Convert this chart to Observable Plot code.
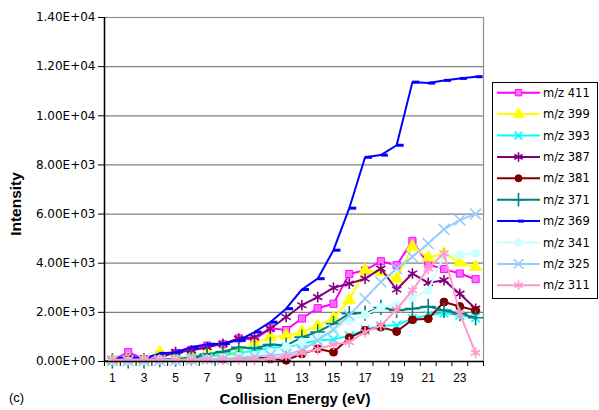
<!DOCTYPE html>
<html><head><meta charset="utf-8">
<script src="https://cdn.jsdelivr.net/npm/d3@7"></script>
<script src="https://cdn.jsdelivr.net/npm/@observablehq/plot@0.6"></script>
<style>body{margin:0;background:#fff}#chart{width:599px;height:410px}</style>
</head><body><div id="chart"></div>
<script>
const energies = [1,2,3,4,5,6,7,8,9,10,11,12,13,14,15,16,17,18,19,20,21,22,23,24];
const seriesNames = ["m/z 411","m/z 399","m/z 393","m/z 387","m/z 381","m/z 371","m/z 369","m/z 341","m/z 325","m/z 311"];
const s411 = [50,380,100,300,350,480,650,700,940,900,1350,1280,1750,2170,2350,3560,3710,4080,3920,4910,3950,3760,3580,3350];
const s399 = [50,100,50,380,150,200,350,300,380,720,990,1060,1200,1450,1760,2500,3710,3640,3370,4670,4230,4400,4030,3850];
const s393 = [30,50,30,100,100,150,200,250,350,450,550,600,720,860,900,1050,1300,1450,1480,1740,1880,1970,1880,1780];
const s387 = [50,60,40,150,380,450,580,720,930,990,1330,1810,2290,2620,3000,3170,3370,3780,2930,3580,3200,3310,2760,2150];
const s381 = [20,20,20,50,50,80,100,100,150,180,100,50,310,520,380,970,1270,1400,1220,1700,1740,2420,2240,2080];
const s371 = [30,30,30,80,100,150,300,400,580,530,690,650,990,1200,1540,1950,1970,2200,2080,2150,2240,2080,1950,1780];
const s369 = [100,180,120,330,380,580,700,730,860,1200,1600,2150,2930,3370,4530,6240,8310,8400,8800,11370,11330,11440,11520,11590];
const s341 = [20,20,20,50,50,80,100,150,200,250,400,600,800,1000,1300,1650,1900,2200,2300,2600,2900,4300,4330,4400];
const s325 = [30,30,30,50,50,80,100,100,150,200,250,300,450,860,1300,1880,2560,3240,3780,4260,4800,5380,5760,6000];
const s311 = [80,70,90,80,60,80,90,70,80,60,120,200,350,500,690,790,1200,1470,2110,2900,3780,4400,1950,350];
const seriesValues = [s411,s399,s393,s387,s381,s371,s369,s341,s325,s311];
const yTicks = [0,2000,4000,6000,8000,10000,12000,14000];
const xLabelTicks = [1,3,5,7,9,11,13,15,17,19,21,23];
const xBoundaryTicks = [0.5,1.5,2.5,3.5,4.5,5.5,6.5,7.5,8.5,9.5,10.5,11.5,12.5,13.5,14.5,15.5,16.5,17.5,18.5,19.5,20.5,21.5,22.5,23.5,24.5];

const dash = {draw(ctx){ctx.moveTo(0,-1.5);ctx.lineTo(7,-1.5);ctx.lineTo(7,1.5);ctx.lineTo(0,1.5);ctx.closePath();}};
const styles = [
  {color:"#ff00ff", symbol:"square", fill:"#ff70ff", r:4},
  {color:"#ffff00", symbol:"triangle", fill:"#ffff00", r:4.5},
  {color:"#00ffff", symbol:"times", fill:"none", r:4},
  {color:"#800080", symbol:"asterisk", fill:"none", r:5},
  {color:"#800000", symbol:"circle", fill:"#800000", r:4},
  {color:"#008080", symbol:"plus", fill:"none", r:5},
  {color:"#0000ff", symbol:dash, fill:"#0000ff", r:4},
  {color:"#ccffff", symbol:"circle", fill:"#ccffff", r:4},
  {color:"#99ccff", symbol:"times", fill:"none", r:5},
  {color:"#ff99cc", symbol:"asterisk", fill:"none", r:5}
];

const fmt = d => { const [m,e] = d.toExponential(2).split("e"); return m + "E" + e[0] + e.slice(1).padStart(2,"0"); };

const seriesMarks = [];
seriesNames.forEach((name, i) => {
  const rows = energies.map((x, j) => ({x, y: seriesValues[i][j]}));
  const st = styles[i];
  seriesMarks.push(Plot.line(rows, {x:"x", y:"y", stroke: st.color, strokeWidth: 2}));
  seriesMarks.push(Plot.dot(rows, {x:"x", y:"y", symbol: st.symbol, r: st.r,
    fill: st.fill, stroke: st.symbol === dash ? "none" : st.color,
    strokeWidth: st.fill === "none" ? 1.6 : 1}));
});

const chart = Plot.plot({
  width: 599, height: 410,
  marginLeft: 104, marginRight: 116, marginTop: 17, marginBottom: 49,
  x: {type: "linear", domain: [0.5, 24.5]},
  y: {domain: [0, 14000]},
  style: {background: "#fff", overflow: "visible"},
  marks: [
    Plot.gridY(yTicks, {stroke: "#808080", strokeOpacity: 1, strokeWidth: 1.2}),
    Plot.frame({stroke: "#909090", strokeWidth: 1.2}),
    ...seriesMarks,
    Plot.ruleX([0.5], {stroke: "#000", strokeWidth: 1.5}),
    Plot.ruleY([0], {stroke: "#000", strokeWidth: 1.5}),
    Plot.axisY(yTicks, {tickFormat: fmt, tickSize: 6, tickPadding: 3, color: "#000", fontSize: 12, fontFamily: "DejaVu Sans", label: null}),
    Plot.axisX(xBoundaryTicks, {tickSize: 5, tickFormat: () => "", color: "#000", label: null}),
    Plot.axisX(xLabelTicks, {tickSize: 0, tickPadding: 12, color: "#000", fontSize: 12, fontFamily: "Liberation Sans, Arial", label: null})
  ]
});
document.getElementById("chart").appendChild(chart);

const svg = d3.select(chart);
svg.append("text").attr("x", 295).attr("y", 404).attr("text-anchor", "middle")
  .attr("font-family", "Liberation Sans, Arial").attr("font-weight", "bold").attr("font-size", 15).attr("fill", "#000")
  .text("Collision Energy (eV)");
svg.append("text").attr("transform", "translate(20.5,204) rotate(-90)").attr("text-anchor", "middle")
  .attr("font-family", "Liberation Sans, Arial").attr("font-weight", "bold").attr("font-size", 15.5).attr("fill", "#000")
  .text("Intensity");
svg.append("text").attr("x", 9).attr("y", 402).attr("text-anchor", "start")
  .attr("font-family", "Liberation Sans, Arial").attr("font-size", 13).attr("fill", "#000").text("(c)");

const lg = svg.append("g");
lg.append("rect").attr("x", 492.5).attr("y", 82.5).attr("width", 105).attr("height", 216)
  .attr("fill", "#fff").attr("stroke", "#000").attr("stroke-width", 1);
const d3sym = {square: d3.symbolSquare, triangle: d3.symbolTriangle, times: d3.symbolTimes, asterisk: d3.symbolAsterisk, circle: d3.symbolCircle, plus: d3.symbolPlus};
seriesNames.forEach((name, i) => {
  const y = 92.7 + i * 21.4;
  const st = styles[i];
  lg.append("line").attr("x1", 497).attr("x2", 540).attr("y1", y).attr("y2", y)
    .attr("stroke", st.color).attr("stroke-width", 2);
  if (st.symbol === dash) {
    lg.append("rect").attr("x", 518).attr("y", y - 1.5).attr("width", 6).attr("height", 3).attr("fill", st.color);
  } else {
    const size = Math.PI * st.r * st.r * 0.8;
    lg.append("path").attr("transform", `translate(518.5,${y})`)
      .attr("d", d3.symbol(d3sym[st.symbol], size)())
      .attr("fill", st.fill).attr("stroke", st.color).attr("stroke-width", st.fill === "none" ? 1.6 : 1);
  }
  lg.append("text").attr("x", 543).attr("y", y).attr("dy", "0.35em").attr("text-anchor", "start")
    .attr("font-family", "DejaVu Sans").attr("font-size", 11.5).attr("fill", "#000").text(name);
});
</script>
</body></html>
